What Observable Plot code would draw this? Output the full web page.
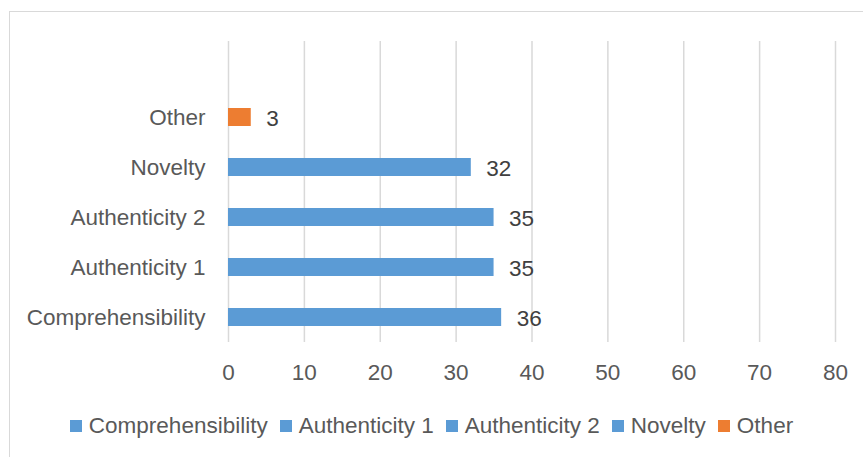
<!DOCTYPE html>
<html>
<head>
<meta charset="utf-8">
<script src="https://cdn.jsdelivr.net/npm/d3@7"></script>
<script src="https://cdn.jsdelivr.net/npm/@observablehq/plot@0.6"></script>
<style>
  html, body { margin: 0; padding: 0; background: #fff; overflow: hidden; }
  #wrap { position: relative; width: 863px; height: 457px; overflow: hidden; font-family: "Liberation Sans", Arial, sans-serif; }
  #frame { position: absolute; left: 9px; top: 11px; width: 900px; height: 500px; border-left: 1.5px solid #D9D9D9; border-top: 1.5px solid #D9D9D9; }
  #chart { position: absolute; left: 0; top: 0; }
  #legend { position: absolute; left: 0; top: 413px; width: 863px; display: flex; justify-content: center; align-items: center; font-size: 22.5px; color: #595959; }
  .item { display: flex; align-items: center; margin: 0 6px; }
  .sw { width: 12px; height: 12px; margin-right: 7px; }
</style>
</head>
<body>
<div id="wrap">
  <div id="frame"></div>
  <div id="chart"></div>
  <div id="legend"></div>
</div>
<script>
const categories = ["Comprehensibility", "Authenticity 1", "Authenticity 2", "Novelty", "Other"];
const values = [36, 35, 35, 32, 3];
const xTicks = [0, 10, 20, 30, 40, 50, 60, 70, 80];

const data = categories.map((c, i) => ({category: c, value: values[i]}));
const colorRange = ["#5B9BD5", "#5B9BD5", "#5B9BD5", "#5B9BD5", "#ED7D31"];
const yDomain = ["", ...categories.slice().reverse()];

const chart = Plot.plot({
  width: 863,
  height: 400,
  marginLeft: 228,
  marginRight: 28,
  marginTop: 41,
  marginBottom: 58,
  style: {fontFamily: "'Liberation Sans', Arial, sans-serif", fontSize: "22.5px", color: "#595959", background: "transparent"},
  x: {domain: [0, 80], ticks: xTicks, tickSize: 0, tickPadding: 22, label: null},
  y: {domain: yDomain, paddingInner: 0.64, paddingOuter: 0.32, tickSize: 0, tickPadding: 23, label: null},
  color: {domain: categories, range: colorRange},
  marks: [
    Plot.ruleX(xTicks, {stroke: "#D9D9D9", strokeWidth: 1.5, strokeOpacity: 1}),
    Plot.barX(data, {x: "value", y: "category", fill: "category"}),
    Plot.text(data, {x: "value", y: "category", text: d => String(d.value), textAnchor: "start", dx: 15, dy: 1, fill: "#404040", fontSize: 22.5})
  ]
});
document.getElementById("chart").appendChild(chart);

const legend = document.getElementById("legend");
categories.forEach((c, i) => {
  const item = document.createElement("div");
  item.className = "item";
  const sw = document.createElement("div");
  sw.className = "sw";
  sw.style.background = colorRange[i];
  const t = document.createElement("span");
  t.textContent = c;
  item.appendChild(sw);
  item.appendChild(t);
  legend.appendChild(item);
});
</script>
</body>
</html>
